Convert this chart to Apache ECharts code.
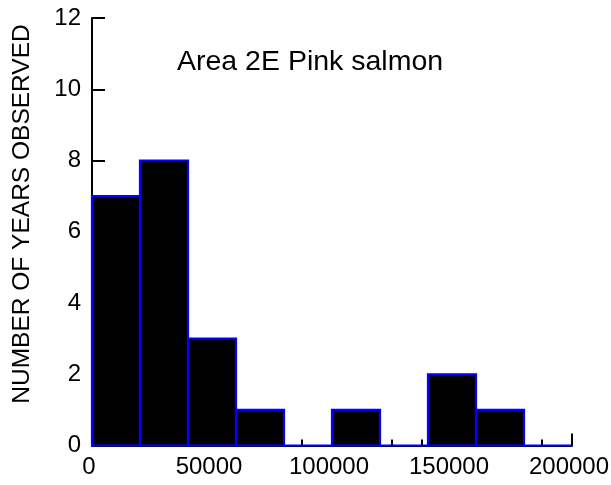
<!DOCTYPE html>
<html>
<head>
<meta charset="utf-8">
<script src="https://cdn.jsdelivr.net/npm/echarts@6/dist/echarts.min.js"></script>
<style>
  html, body { margin: 0; padding: 0; background: #fff; }
  #chart { width: 611px; height: 485px; }
</style>
</head>
<body>
<div id="chart"></div>
<script>
// Histogram of Area 2E pink salmon escapement (bins of 20 000 fish)
var binStarts = [0, 20000, 40000, 60000, 80000, 100000, 120000, 140000, 160000, 180000];
var binWidth = 20000;
var yearCounts = [7, 8, 3, 1, 0, 1, 0, 2, 1, 0];
var xTicks = [0, 50000, 100000, 150000, 200000];
var yTicks = [0, 2, 4, 6, 8, 10, 12];

var FONT = 'Liberation Sans, Arial, Helvetica, sans-serif';

var bins = binStarts.map(function (s, i) { return [s, s + binWidth, yearCounts[i]]; });

var chart = echarts.init(document.getElementById('chart'), null, { renderer: 'canvas' });

chart.setOption({
  animation: false,
  backgroundColor: '#ffffff',
  title: {
    text: 'Area 2E Pink salmon',
    left: 172,
    top: 43,
    textStyle: { fontFamily: FONT, fontSize: 28.5, fontWeight: 'normal', color: '#000' }
  },
  graphic: [{
    type: 'text',
    x: 22,
    y: 214,
    rotation: Math.PI / 2,
    style: {
      text: 'NUMBER OF YEARS OBSERVED',
      fontFamily: FONT,
      fontSize: 24.5,
      fill: '#000',
      align: 'center',
      verticalAlign: 'middle'
    }
  }],
  grid: { left: 92, right: 39, top: 18, bottom: 39.5, outerBoundsMode: 'none', containLabel: false },
  xAxis: {
    type: 'value',
    min: xTicks[0],
    max: xTicks[xTicks.length - 1],
    interval: xTicks[1] - xTicks[0],
    splitLine: { show: false },
    axisLine: { show: true, lineStyle: { color: '#000', width: 2 } },
    axisTick: { show: true, inside: true, length: 12, lineStyle: { color: '#000', width: 2 } },
    minorTick: { show: true, splitNumber: 4, length: 6, lineStyle: { color: '#000', width: 2 } },
    axisLabel: {
      fontFamily: FONT, fontSize: 24, color: '#000', margin: 10,
      padding: [0, 6, 0, 0],
      formatter: function (v) { return String(v); }
    }
  },
  yAxis: {
    type: 'value',
    min: yTicks[0],
    max: yTicks[yTicks.length - 1],
    interval: yTicks[1] - yTicks[0],
    splitLine: { show: false },
    axisLine: { show: true, lineStyle: { color: '#000', width: 2 } },
    axisTick: { show: true, inside: true, length: 13, lineStyle: { color: '#000', width: 2 } },
    axisLabel: { fontFamily: FONT, fontSize: 24, color: '#000', margin: 11 }
  },
  series: [{
    type: 'custom',
    data: bins,
    renderItem: function (params, api) {
      var p0 = api.coord([api.value(0), 0]);
      var p1 = api.coord([api.value(1), api.value(2)]);
      return {
        type: 'rect',
        shape: { x: p0[0], y: p1[1], width: p1[0] - p0[0], height: p0[1] - p1[1] },
        style: { fill: '#000', stroke: '#0000ff', lineWidth: 2.2 }
      };
    },
    encode: { x: [0, 1], y: 2 }
  }]
});
</script>
</body>
</html>
